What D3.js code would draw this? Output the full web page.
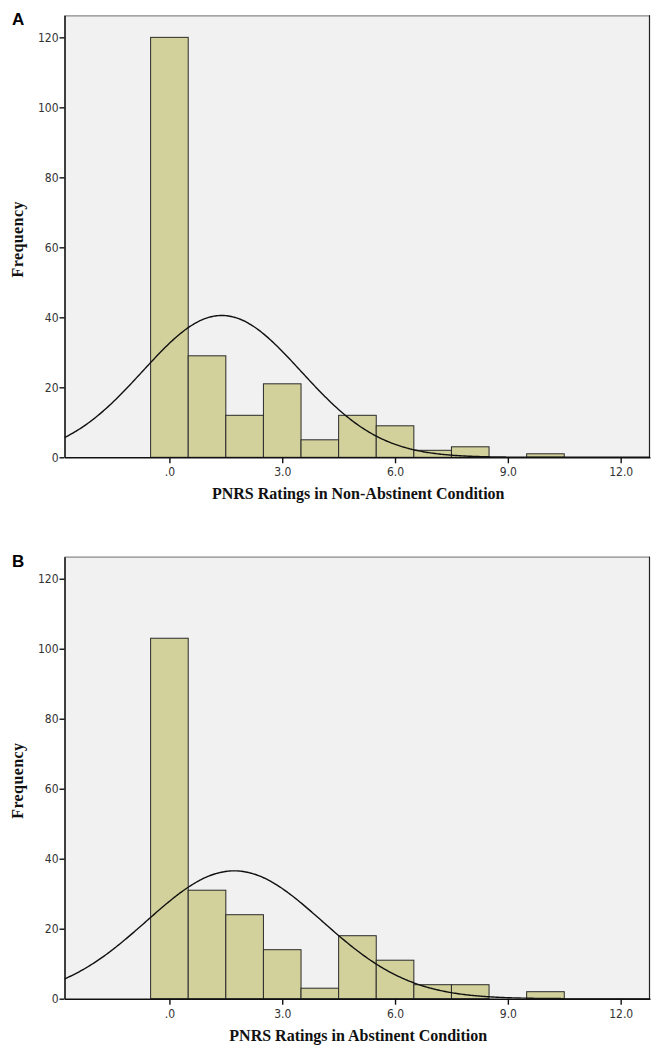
<!DOCTYPE html>
<html>
<head>
<meta charset="utf-8">
<script src="https://cdn.jsdelivr.net/npm/d3@7"></script>
<style>
  body { margin: 0; background: #fff; }
  svg { display: block; }
</style>
</head>
<body>
<svg id="chart" width="660" height="1050"></svg>
<script>
// ---- data ----
const binCenters = [0, 1, 2, 3, 4, 5, 6, 7, 8, 9, 10, 11, 12];
const freqNonAbstinent = [120, 29, 12, 21, 5, 12, 9, 2, 3, 0, 1, 0, 0];
const freqAbstinent    = [103, 31, 24, 14, 3, 18, 11, 4, 4, 0, 2, 0, 0];
const xTicks = [0, 3, 6, 9, 12];
const xTickLabels = [".0", "3.0", "6.0", "9.0", "12.0"];
const yTicks = [0, 20, 40, 60, 80, 100, 120];
const panelLetters = ["A", "B"];
const xTitles = ["PNRS Ratings in Non-Abstinent Condition", "PNRS Ratings in Abstinent Condition"];
const yTitle = "Frequency";

const svg = d3.select("#chart");

function drawPanel(top, freqs, letter, xTitle) {
  const left = 64.5, right = 650, plotTop = top, plotBottom = top + 442;
  const x = d3.scaleLinear().domain([-2.79, 12.78]).range([left, right]);
  const y = d3.scaleLinear().domain([0, 126.3]).range([plotBottom, plotTop]);
  const g = svg.append("g");

  // background
  g.append("rect").attr("x", left).attr("y", plotTop)
    .attr("width", right - left).attr("height", plotBottom - plotTop)
    .attr("fill", "#f1f1f1");
  // top / right frame
  g.append("line").attr("x1", left).attr("x2", right).attr("y1", plotTop + 0.5).attr("y2", plotTop + 0.5)
    .attr("stroke", "#8a8a8a").attr("stroke-width", 1.2);
  g.append("line").attr("x1", right - 0.5).attr("x2", right - 0.5).attr("y1", plotTop).attr("y2", plotBottom)
    .attr("stroke", "#222").attr("stroke-width", 1.2);

  // bars
  const bins = binCenters.map((c, i) => ({ c, f: freqs[i] })).filter(d => d.f > 0);
  g.selectAll("rect.bar").data(bins).enter().append("rect")
    .attr("class", "bar")
    .attr("x", d => x(d.c - 0.5))
    .attr("width", d => x(d.c + 0.5) - x(d.c - 0.5))
    .attr("y", d => y(d.f))
    .attr("height", d => y(0) - y(d.f))
    .attr("fill", "#d3d19b")
    .attr("stroke", "#2a2a2a")
    .attr("stroke-width", 1);

  // normal curve fitted to the binned data
  const N = d3.sum(freqs);
  const mean = d3.sum(binCenters.map((c, i) => c * freqs[i])) / N;
  const ss = d3.sum(binCenters.map((c, i) => (c - mean) * (c - mean) * freqs[i]));
  const sd = Math.sqrt(ss / (N - 1));
  const pdf = v => N * Math.exp(-0.5 * Math.pow((v - mean) / sd, 2)) / (sd * Math.sqrt(2 * Math.PI));
  const xs = d3.range(0, 401).map(i => -2.79 + i * (12.78 + 2.79) / 400);
  const clipId = "clip" + letter;
  svg.append("clipPath").attr("id", clipId).append("rect")
    .attr("x", left).attr("y", plotTop).attr("width", right - left).attr("height", plotBottom - plotTop);
  g.append("path").datum(xs)
    .attr("clip-path", `url(#${clipId})`)
    .attr("d", d3.line().x(v => x(v)).y(v => y(pdf(v))).curve(d3.curveBasis))
    .attr("fill", "none").attr("stroke", "#111").attr("stroke-width", 1.4);

  // axes
  const xAxis = d3.axisBottom(x).tickValues(xTicks)
    .tickFormat((d, i) => xTickLabels[i]).tickSize(6).tickSizeOuter(0);
  const gx = g.append("g").attr("transform", `translate(0,${plotBottom})`).call(xAxis);
  gx.select(".domain").attr("stroke", "#111").attr("stroke-width", 1.6);
  gx.selectAll(".tick line").attr("stroke", "#111").attr("stroke-width", 1.4);
  gx.selectAll(".tick text").attr("fill", "#333")
    .style("font-family", "'DejaVu Sans Condensed', 'DejaVu Sans', sans-serif")
    .style("font-size", "12px").attr("dy", "0.85em");

  const yAxis = d3.axisLeft(y).tickValues(yTicks).tickSize(5).tickSizeOuter(0);
  const gy = g.append("g").attr("transform", `translate(${left},0)`).call(yAxis);
  gy.select(".domain").attr("stroke", "#111").attr("stroke-width", 1.6);
  gy.selectAll(".tick line").attr("stroke", "#111").attr("stroke-width", 1.4);
  gy.selectAll(".tick text").attr("fill", "#333")
    .style("font-family", "'DejaVu Sans Condensed', 'DejaVu Sans', sans-serif")
    .style("font-size", "12px").attr("x", -6);

  // titles
  g.append("text").attr("x", (left + right) / 2 + 1).attr("y", plotBottom + 42)
    .attr("text-anchor", "middle")
    .style("font-family", "'Liberation Serif', 'Times New Roman', serif")
    .style("font-weight", "bold").style("font-size", "16px").attr("fill", "#111")
    .text(xTitle);
  g.append("text").attr("transform", `translate(23,${(plotTop + plotBottom) / 2 + 3}) rotate(-90)`)
    .attr("text-anchor", "middle")
    .style("font-family", "'Liberation Serif', 'Times New Roman', serif")
    .style("font-weight", "bold").style("font-size", "16px")
    .style("letter-spacing", "0.4px").attr("fill", "#111")
    .text(yTitle);
  g.append("text").attr("x", 12).attr("y", plotTop + 10)
    .style("font-family", "'Liberation Sans', Arial, sans-serif")
    .style("font-weight", "bold").style("font-size", "17px").attr("fill", "#000")
    .text(letter);
}

drawPanel(15.3, freqNonAbstinent, panelLetters[0], xTitles[0]);
drawPanel(556.7, freqAbstinent, panelLetters[1], xTitles[1]);
</script>
</body>
</html>
